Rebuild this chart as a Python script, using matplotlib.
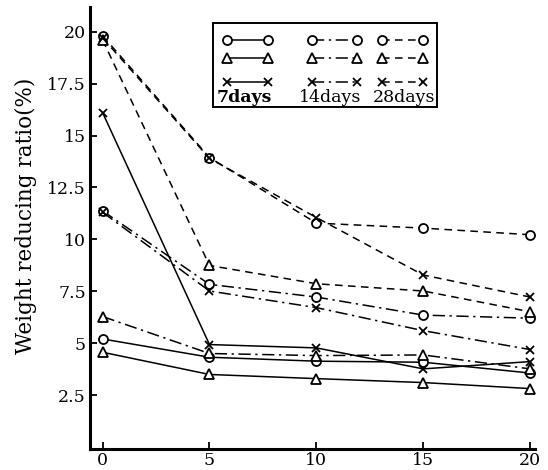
import matplotlib
matplotlib.use("Agg")
import matplotlib.pyplot as plt
from matplotlib.lines import Line2D

plt.rcParams['font.family'] = ['DejaVu Serif', 'Liberation Serif']

x = [0, 5, 10, 15, 20]

# 7 days (solid)
circle_7 = [5.2, 4.32, 4.13, 4.08, 3.56]
triangle_7 = [4.56, 3.49, 3.29, 3.10, 2.81]
cross_7 = [16.1, 4.93, 4.77, 3.76, 4.11]
# 14 days (dash-dot)
circle_14 = [11.37, 7.83, 7.22, 6.35, 6.2]
triangle_14 = [6.28, 4.5, 4.4, 4.43, 3.76]
cross_14 = [11.3, 7.51, 6.71, 5.6, 4.69]
# 28 days (dashed)
circle_28 = [19.8, 13.94, 10.78, 10.54, 10.22]
triangle_28 = [19.6, 8.74, 7.86, 7.51, 6.51]
cross_28 = [19.7, 13.9, 11.05, 8.28, 7.22]

xticks = [0, 5, 10, 15, 20]
yticks = [2.5, 5, 7.5, 10, 12.5, 15, 17.5, 20]
ytick_labels = ['2.5', '5', '7.5', '10', '12.5', '15', '17.5', '20']
ylabel = 'Weight reducing ratio(%)'
legend_titles = ['7days', '14days', '28days']

fig = plt.figure(figsize=(5.48, 4.70), dpi=100)
ax = fig.add_axes([90/548, (470-449)/470, (535-90)/548, (449-7)/470])

solid = '-'
dashdot = (0, (8, 3, 1.5, 3))
dashed = (0, (5, 3.5))

mk = dict(color='black', linewidth=1.1, markerfacecolor='white',
          markeredgecolor='black', markeredgewidth=1.3)

series = [
    (circle_7, 'o', solid), (triangle_7, '^', solid), (cross_7, 'x', solid),
    (circle_14, 'o', dashdot), (triangle_14, '^', dashdot), (cross_14, 'x', dashdot),
    (circle_28, 'o', dashed), (triangle_28, '^', dashed), (cross_28, 'x', dashed),
]
for vals, m, ls in series:
    ms = 6 if m == 'x' else 6.5
    ax.plot(x, vals, marker=m, linestyle=ls, markersize=ms, **mk)

ax.set_xlim(-0.59, 20.23)
ax.set_ylim(-0.1, 21.19)
ax.set_xticks(xticks)
ax.set_xticklabels([str(v) for v in xticks])
ax.set_yticks(yticks)
ax.set_yticklabels(ytick_labels)
ax.tick_params(direction='in', length=5, width=1.3, labelsize=12.5, pad=3)
ax.tick_params(axis='x', pad=2)
for s in ['top', 'right']:
    ax.spines[s].set_visible(False)
for s in ['left', 'bottom']:
    ax.spines[s].set_linewidth(2.2)
ax.set_ylabel(ylabel, fontsize=15.5)
ax.yaxis.set_label_coords(-0.12, 0.527)

# Legend drawn manually in axes coordinates
def ax_xy(px, py):
    return ((px - 90) / (535 - 90), (449 - py) / (449 - 7))

x0, y0 = ax_xy(213, 107)
x1, y1 = ax_xy(437, 23)
ax.add_patch(plt.Rectangle((x0, y0), x1 - x0, y1 - y0, transform=ax.transAxes,
                           fill=False, edgecolor='black', linewidth=1.4, zorder=5))
cols = [(227, 268, solid), (312, 357, dashdot), (382, 423, dashed)]
rows = [(40, 'o'), (58, '^'), (82, 'x')]
for (xa, xb, ls) in cols:
    for (py, m) in rows:
        pa = ax_xy(xa, py)
        pb = ax_xy(xb, py)
        ax.add_line(Line2D([pa[0], pb[0]], [pa[1], pb[1]], transform=ax.transAxes,
                           marker=m, linestyle=ls, markersize=6.5 if m != 'x' else 6,
                           zorder=6, **mk))
text_pos = [(244, True), (330, False), (404, False)]
for (px, bold), t in zip(text_pos, legend_titles):
    tx, ty = ax_xy(px, 97)
    ax.text(tx, ty, t, transform=ax.transAxes, ha='center', va='center',
            fontsize=12.5, fontweight='bold' if bold else 'normal', zorder=6)

fig.savefig('out.png', dpi=100)
